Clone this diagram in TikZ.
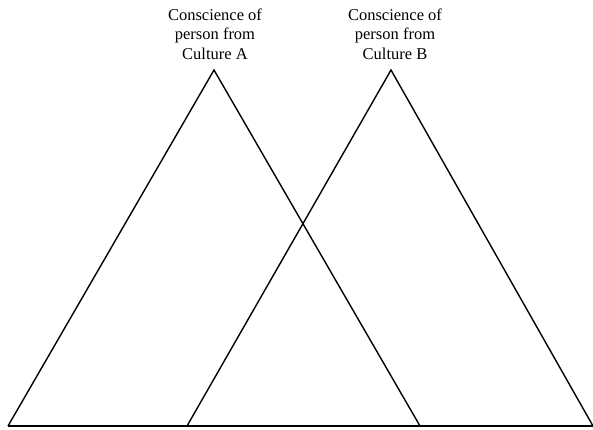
\documentclass[tikz,border=0pt]{standalone}
\usepackage{fontspec}
\setmainfont{Liberation Serif}
\begin{document}
\begin{tikzpicture}[x=1pt,y=-1pt,
  side/.style={line width=1.4pt, line join=miter},
  caption/.style={align=center, font=\fontsize{16.5}{19.5}\selectfont, inner sep=0pt, anchor=base}]
  \useasboundingbox (0,0) rectangle (593,429);
  % apexes and base corners of the two overlapping triangles
  \coordinate (a1) at (214,70);
  \coordinate (l1) at (8,426);
  \coordinate (r1) at (420,426);
  \coordinate (a2) at (391,70);
  \coordinate (l2) at (187,426);
  \coordinate (r2) at (593,426);
  \draw[side] (l1) -- (a1) -- (r1);
  \draw[side] (l2) -- (a2) -- (r2);
  \draw[side] (l1) -- (r2);
  % captions above the apexes (anchored on the baseline of their last line)
  \node[caption] (ca) at (215,59) {Conscience of\\person from\\Culture A};
  \node[caption] (cb) at (395,59) {Conscience of\\person from\\Culture B};
\end{tikzpicture}
\end{document}
